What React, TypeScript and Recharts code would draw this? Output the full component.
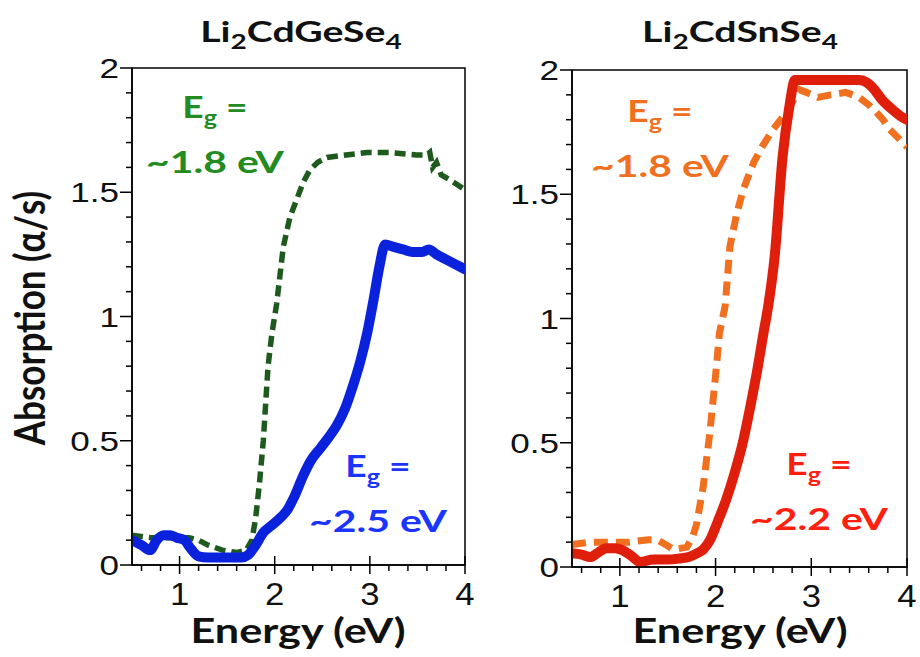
import { Line, LineChart, ReferenceArea, XAxis, YAxis } from "recharts";

// Li2CdGeSe4 panel
const GE_DASH_E = [0.5, 0.7, 0.9, 1.1, 1.2, 1.3, 1.45, 1.6, 1.7, 1.76, 1.8, 1.84, 1.88, 1.93, 1.97, 2.02, 2.09, 2.16, 2.23, 2.3, 2.37, 2.45, 2.55, 2.75, 2.97, 3.2, 3.49, 3.6, 3.63, 3.66, 3.7, 3.75, 3.84, 3.92, 4.0];
const GE_DASH_A = [0.12, 0.11, 0.11, 0.11, 0.1, 0.08, 0.06, 0.05, 0.06, 0.1, 0.19, 0.33, 0.5, 0.8, 0.93, 1.05, 1.28, 1.4, 1.47, 1.54, 1.59, 1.62, 1.64, 1.65, 1.66, 1.66, 1.65, 1.65, 1.66, 1.6, 1.62, 1.57, 1.55, 1.53, 1.51];
const GE_SOLID_E = [0.5, 0.6, 0.69, 0.76, 0.83, 0.9, 0.97, 1.05, 1.11, 1.2, 1.3, 1.45, 1.57, 1.65, 1.72, 1.8, 1.88, 1.97, 2.06, 2.13, 2.2, 2.3, 2.38, 2.48, 2.56, 2.65, 2.74, 2.83, 2.9, 2.97, 3.04, 3.1, 3.16, 3.25, 3.35, 3.45, 3.55, 3.62, 3.7, 3.8, 3.9, 4.0];
const GE_SOLID_A = [0.1, 0.08, 0.06, 0.1, 0.12, 0.12, 0.11, 0.1, 0.07, 0.035, 0.03, 0.03, 0.03, 0.03, 0.04, 0.08, 0.13, 0.16, 0.19, 0.22, 0.27, 0.36, 0.42, 0.47, 0.51, 0.56, 0.63, 0.73, 0.82, 0.93, 1.07, 1.2, 1.29, 1.28, 1.27, 1.26, 1.26, 1.27, 1.25, 1.23, 1.21, 1.19];

// Li2CdSnSe4 panel
const SN_DASH_E = [0.5, 0.7, 0.9, 1.1, 1.3, 1.39, 1.48, 1.56, 1.7, 1.76, 1.8, 1.87, 1.94, 2.01, 2.04, 2.1, 2.15, 2.22, 2.29, 2.4, 2.5, 2.6, 2.7, 2.8, 2.88, 2.95, 3.07, 3.2, 3.36, 3.5, 3.6, 3.68, 3.75, 3.82, 3.9, 4.0];
const SN_DASH_A = [0.09, 0.1, 0.1, 0.1, 0.11, 0.11, 0.09, 0.07, 0.08, 0.12, 0.17, 0.32, 0.54, 0.81, 0.94, 1.05, 1.29, 1.42, 1.52, 1.63, 1.7, 1.76, 1.81, 1.87, 1.92, 1.91, 1.89, 1.9, 1.91, 1.89, 1.86, 1.83, 1.8, 1.76, 1.73, 1.69];
const SN_SOLID_E = [0.5, 0.6, 0.69, 0.78, 0.86, 0.95, 1.03, 1.12, 1.21, 1.35, 1.5, 1.62, 1.72, 1.8, 1.87, 1.94, 2.02, 2.11, 2.2, 2.29, 2.36, 2.43, 2.5, 2.55, 2.62, 2.7, 2.77, 2.83, 2.9, 3.05, 3.18, 3.35, 3.5, 3.58, 3.64, 3.74, 3.85, 3.95, 4.0];
const SN_SOLID_A = [0.055, 0.05, 0.04, 0.06, 0.075, 0.075, 0.067, 0.045, 0.02, 0.03, 0.03, 0.034, 0.04, 0.054, 0.07, 0.107, 0.18, 0.27, 0.38, 0.51, 0.64, 0.78, 0.94, 1.05, 1.26, 1.65, 1.85, 1.96, 1.96, 1.96, 1.96, 1.96, 1.96, 1.95, 1.93, 1.88, 1.84, 1.81, 1.8];

const X_TICKS = [0.6, 0.8, 1, 1.2, 1.4, 1.6, 1.8, 2, 2.2, 2.4, 2.6, 2.8, 3, 3.2, 3.4, 3.6, 3.8, 4];
const Y_TICKS = [0, 0.1, 0.2, 0.3, 0.4, 0.5, 0.6, 0.7, 0.8, 0.9, 1, 1.1, 1.2, 1.3, 1.4, 1.5, 1.6, 1.7, 1.8, 1.9, 2];
const Y_MAJOR = [0, 0.5, 1, 1.5, 2];

const toPoints = (e: number[], a: number[]) => e.map((x, i) => ({ x, y: a[i] }));

const TICK_FONT = "'Liberation Sans', Arial, sans-serif";
const LABEL_FONT = "Lato, 'Open Sans', sans-serif";

// the source figure is stretched sideways, so text gets a horizontal scale
const SText = ({ x, y, sx = 1, sy = 1, rotate = 0, children, ...rest }: any) => (
  <text transform={`translate(${x},${y}) rotate(${rotate}) scale(${sx},${sy})`} x={0} y={0} {...rest}>
    {children}
  </text>
);

const isMajorX = (v: number) => Math.abs(v - Math.round(v)) < 1e-6;

const XTick = (props: any) => {
  const { x, y, payload } = props;
  const v = payload.value as number;
  const major = isMajorX(v);
  return (
    <g>
      <line x1={x} x2={x} y1={major ? y - 9 : y} y2={major ? y + 9 : y + 6} stroke="#000" strokeWidth={1.5} />
      {major && (
        <SText x={x} y={y + 40} sx={1.12} textAnchor="middle" fontSize={31} fontFamily={TICK_FONT} fill="#111">
          {v}
        </SText>
      )}
    </g>
  );
};

const YTick = (props: any) => {
  const { x, y, payload } = props;
  const v = payload.value as number;
  const major = Y_MAJOR.some((m) => Math.abs(m - v) < 1e-6);
  return (
    <g>
      <line x1={major ? x - 12 : x - 6} x2={x} y1={y} y2={y} stroke="#000" strokeWidth={1.5} />
      {major && (
        <SText x={x - 13} y={y + 10} sx={1.3} textAnchor="end" fontSize={27} fontFamily={TICK_FONT} fill="#111">
          {v}
        </SText>
      )}
    </g>
  );
};

interface PanelProps {
  left: number;
  width: number;
  margin: { top: number; right: number; left: number; bottom: number };
  xHeight: number;
  dash: { x: number; y: number }[];
  solid: { x: number; y: number }[];
  dashColor: string;
  solidColor: string;
  dashWidth: number;
  dashArray: string;
}

function Panel(p: PanelProps) {
  return (
    <div style={{ position: "absolute", left: p.left, top: 0 }}>
      <LineChart width={p.width} height={657} margin={p.margin}>
        <XAxis
          dataKey="x"
          type="number"
          domain={[0.5, 4]}
          ticks={X_TICKS}
          interval={0}
          allowDataOverflow
          height={p.xHeight}
          tickSize={0}
          tickMargin={0}
          tickLine={false}
          axisLine={{ stroke: "#000", strokeWidth: 1.5 }}
          tick={<XTick />}
        />
        <YAxis
          type="number"
          domain={[0, 2]}
          ticks={Y_TICKS}
          interval={0}
          allowDataOverflow
          width={60}
          tickSize={0}
          tickMargin={0}
          tickLine={false}
          axisLine={{ stroke: "#000", strokeWidth: 1.5 }}
          tick={<YTick />}
        />
        <ReferenceArea x1={0.5} x2={4} y1={0} y2={2} fill="none" stroke="#000" strokeWidth={1.5} />
        <Line
          data={p.dash}
          dataKey="y"
          type="linear"
          stroke={p.dashColor}
          strokeWidth={p.dashWidth}
          strokeDasharray={p.dashArray}
          dot={false}
          isAnimationActive={false}
        />
        <Line
          data={p.solid}
          dataKey="y"
          type="monotone"
          stroke={p.solidColor}
          strokeWidth={10}
          strokeLinejoin="round"
          strokeLinecap="round"
          dot={false}
          isAnimationActive={false}
        />
      </LineChart>
    </div>
  );
}

function Eg({ cx, y, color, value }: { cx: number; y: number; color: string; value: string }) {
  return (
    <g fontFamily={LABEL_FONT} fontWeight={700} fill={color} textAnchor="middle">
      <SText x={cx} y={y} sx={1.2} fontSize={31}>
        E<tspan fontSize={21} dy={7}>g</tspan>
        <tspan dy={-7}> =</tspan>
      </SText>
      <SText x={cx} y={y + 55} sx={1.32} fontSize={31}>
        {value}
      </SText>
    </g>
  );
}

function Formula({ cx, y, parts }: { cx: number; y: number; parts: [string, string, string, string] }) {
  return (
    <SText x={cx} y={y} sx={1.4} textAnchor="middle" fontFamily={LABEL_FONT} fontWeight={700} fontSize={28} fill="#111">
      {parts[0]}
      <tspan fontSize={20} dy={7}>{parts[1]}</tspan>
      <tspan dy={-7}>{parts[2]}</tspan>
      <tspan fontSize={20} dy={7}>{parts[3]}</tspan>
    </SText>
  );
}

export default function App() {
  return (
    <div style={{ position: "absolute", left: 0, top: 0, width: 920, height: 657, background: "#fff", overflow: "hidden" }}>
      <Panel
        left={0}
        width={490}
        margin={{ top: 68, right: 25, left: 72, bottom: 0 }}
        xHeight={92}
        dash={toPoints(GE_DASH_E, GE_DASH_A)}
        solid={toPoints(GE_SOLID_E, GE_SOLID_A)}
        dashColor="#1e5a1e"
        solidColor="#0b22dc"
        dashWidth={5.5}
        dashArray="11 6"
      />
      <Panel
        left={460}
        width={460}
        margin={{ top: 70, right: 13, left: 52, bottom: 0 }}
        xHeight={90}
        dash={toPoints(SN_DASH_E, SN_DASH_A)}
        solid={toPoints(SN_SOLID_E, SN_SOLID_A)}
        dashColor="#f07020"
        solidColor="#e01e0c"
        dashWidth={7}
        dashArray="14 8"
      />
      <svg width={920} height={657} style={{ position: "absolute", left: 0, top: 0, pointerEvents: "none" }}>
        <Formula cx={301} y={42} parts={["Li", "2", "CdGeSe", "4"]} />
        <Formula cx={740} y={42} parts={["Li", "2", "CdSnSe", "4"]} />
        <SText
          x={45}
          y={318}
          rotate={-90}
          sy={1.2}
          textAnchor="middle"
          fontFamily={LABEL_FONT}
          fontWeight={700}
          fontSize={35}
          fill="#111"
        >
          Absorption (α/s)
        </SText>
        <SText x={298} y={643} sx={1.27} textAnchor="middle" fontFamily={LABEL_FONT} fontWeight={700} fontSize={34} fill="#111">
          Energy (eV)
        </SText>
        <SText x={740} y={643} sx={1.27} textAnchor="middle" fontFamily={LABEL_FONT} fontWeight={700} fontSize={34} fill="#111">
          Energy (eV)
        </SText>
        <Eg cx={215} y={118} color="#228b22" value="~1.8 eV" />
        <Eg cx={378} y={477} color="#1a35ff" value="~2.5 eV" />
        <Eg cx={660} y={122} color="#f07020" value="~1.8 eV" />
        <Eg cx={819} y={475} color="#ff2010" value="~2.2 eV" />
      </svg>
    </div>
  );
}
